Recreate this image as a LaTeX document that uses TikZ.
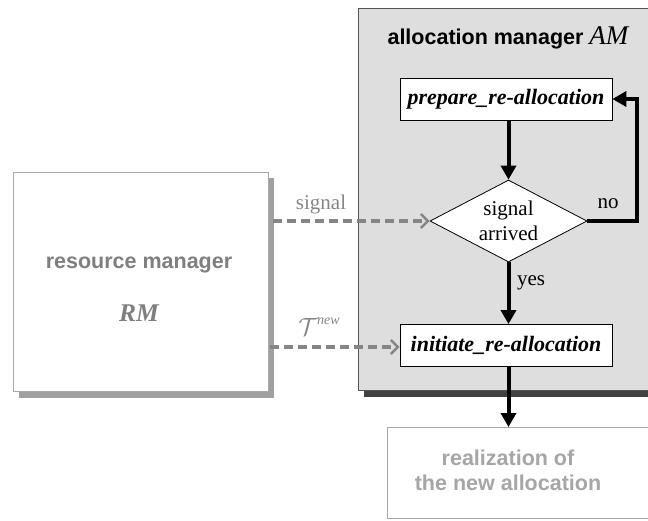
\documentclass[tikz,border=0pt]{standalone}
\usepackage{fontspec}
\setmainfont{Liberation Serif}
\newfontfamily\arialfont{Liberation Sans}
\usetikzlibrary{shapes.geometric,arrows.meta}
\definecolor{amfill}{HTML}{DEDEDE}
\definecolor{amline}{HTML}{555555}
\definecolor{amshadow}{HTML}{404040}
\definecolor{rmtext}{HTML}{7F7F7F}
\definecolor{rmline}{HTML}{A8A8A8}
\definecolor{rmshadow}{HTML}{A0A0A0}
\definecolor{realtext}{HTML}{A6A6A6}
\definecolor{sigcol}{HTML}{858585}
\tikzset{
  procbox/.style={draw=black, fill=white, line width=0.8pt, minimum width=212pt, minimum height=42pt, inner sep=0pt,
    font=\fontsize{22}{26}\selectfont\bfseries\itshape},
  decision/.style={diamond, draw=black, fill=white, line width=0.8pt, minimum width=157pt, minimum height=82pt, inner sep=0pt,
    aspect=1.9, align=center, font=\fontsize{21}{25}\selectfont},
  flow/.style={line width=4pt, -{Triangle[length=14pt,width=15pt]}},
  sig/.style={draw=sigcol, line width=3.6pt, dash pattern=on 9pt off 5pt, -{Straight Barb[length=7pt,width=14pt,line width=2.5pt]}},
  siglabel/.style={text=sigcol, font=\fontsize{21}{25}\selectfont},
  plainlabel/.style={font=\fontsize{21}{25}\selectfont},
}
\begin{document}
\begin{tikzpicture}[x=1pt,y=-1pt]
\useasboundingbox (0,0) rectangle (648,520);
% allocation manager box
\fill[amshadow] (364,390) rectangle (670,397);
\draw[amline, fill=amfill, line width=1pt] (358,8) rectangle (670,390);
\node[font=\fontsize{21.5}{25}\selectfont\arialfont\bfseries] (amtitle) at (508,38) {allocation manager \normalfont\fontsize{27}{30}\selectfont\itshape AM};
% resource manager
\fill[rmshadow] (19,178) rectangle (274,398);
\node[draw=rmline, fill=white, line width=0.8pt, minimum width=255pt, minimum height=219pt, inner sep=0pt] (rm) at (140.5,281.5) {};
\node[text=rmtext, font=\fontsize{21.5}{25}\selectfont\arialfont\bfseries] (rmname) at (139,265) {resource manager};
\node[text=rmtext, font=\fontsize{25.5}{28}\selectfont\bfseries\itshape] (rmabbr) at (139,313) {RM};
% realization box
\node[draw=rmline, fill=white, line width=1pt, minimum width=280pt, minimum height=91pt, anchor=north west, inner sep=0pt] (real) at (387,427) {};
\node[text=realtext, align=center, font=\fontsize{21.5}{25}\selectfont\arialfont\bfseries] (realtxt) at (508,470) {realization of\\the new allocation};
% process nodes
\node[procbox] (prep) at (506,99) {prepare\_re-allocation};
\node[decision] (dia) at (508.5,221) {signal\\arrived};
\node[procbox] (init) at (506,345.5) {initiate\_re-allocation};
% flow arrows
\draw[flow] (prep.south -| dia.north) -- (dia.north);
\coordinate (loop) at (637,221);
\draw[flow] (dia.east) -- (loop) |- (prep.east);
\draw[flow] (dia.south) -- (dia.south |- init.north);
\draw[flow] (init.south -| dia.south) -- (dia.south |- real.north);
\node[plainlabel] (nolbl) at (608,204) {no};
\node[plainlabel] (yeslbl) at (531,283) {yes};
% signal arrows
\coordinate (sigstart) at (273,221);
\coordinate (tstart) at (270,347);
\draw[sig] (sigstart) -- (dia.west);
\draw[sig] (tstart) -- (tstart -| init.west);
\node[siglabel] (siglbl) at (321,204) {signal};
\node[siglabel, font=\fontsize{29}{32}\selectfont, inner sep=0pt] (tlbl) at (319,327) {$\mathcal{T}$\hspace{-1pt}\raisebox{11pt}{\fontsize{14}{16}\selectfont\itshape new}};
\end{tikzpicture}
\end{document}
